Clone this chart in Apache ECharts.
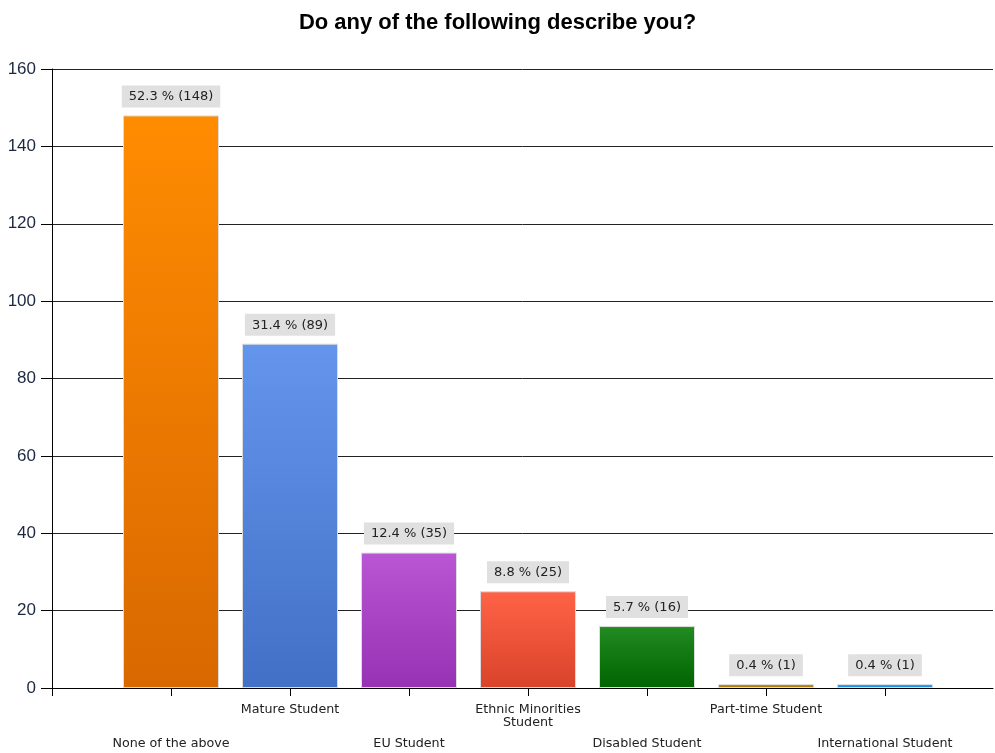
<!DOCTYPE html>
<html>
<head>
<meta charset="utf-8">
<script src="https://cdn.jsdelivr.net/npm/echarts@6/dist/echarts.min.js"></script>
<style>
body{margin:0;background:#fff;}
#chart{width:995px;height:753px;}
</style>
</head>
<body>
<div id="chart"></div>
<script>
var categories = ['None of the above','Mature Student','EU Student','Ethnic Minorities\nStudent','Disabled Student','Part-time Student','International Student'];
var counts = [148, 89, 35, 25, 16, 1, 1];
var percents = ['52.3','31.4','12.4','8.8','5.7','0.4','0.4'];
var topColors = ['#ff8c00','#6495ed','#ba55d3','#ff6347','#228b22','#b8860b','#1e9fff'];
var bottomColors = ['#d96800','#4270c6','#9632b4','#d9432a','#006400','#a87508','#1a86d6'];
var yTicks = [0, 20, 40, 60, 80, 100, 120, 140, 160];
var xPositions = [1, 2, 3, 4, 5, 6, 7];

var chart = echarts.init(document.getElementById('chart'));

var barData = [];
for (var i = 0; i < counts.length; i++) {
	barData.push({
		value: [xPositions[i], counts[i]],
		itemStyle: {
			color: new echarts.graphic.LinearGradient(0, 0, 0, 1, [
				{offset: 0, color: topColors[i]},
				{offset: 1, color: bottomColors[i]}
			])
		}
	});
}

function catLabel(v, row) {
	var idx = Math.round(v) - 1;
	if (idx < 0 || idx >= categories.length || Math.abs(v - idx - 1) > 0.01) return '';
	if (idx % 2 === row) return categories[idx];
	return '';
}

// 119px per category, axis runs from the y axis to the right edge
var xMax = 941 / 119;

var option = {
	animation: false,
	title: {
		text: 'Do any of the following describe you?',
		left: 'center',
		top: 7,
		textStyle: {fontFamily: 'Liberation Sans', fontSize: 22, fontWeight: 'bold', color: '#000'}
	},
	grid: {left: 52, top: 69, right: 2, bottom: 65},
	xAxis: [{
		type: 'value', min: 0, max: xMax, interval: 1,
		axisLine: {show: true, lineStyle: {color: '#000'}},
		axisTick: {show: true, length: 8, lineStyle: {color: '#000'}, customValues: [0].concat(xPositions)},
		splitLine: {show: false},
		axisLabel: {
			margin: 15, fontFamily: 'DejaVu Sans', fontSize: 12.7, color: '#222', lineHeight: 13,
			customValues: xPositions,
			formatter: function (v) { return catLabel(v, 1); }
		}
	}, {
		type: 'value', min: 0, max: xMax, interval: 1, position: 'bottom',
		axisLine: {show: false}, axisTick: {show: false}, splitLine: {show: false},
		axisLabel: {
			margin: 49, fontFamily: 'DejaVu Sans', fontSize: 12.7, color: '#222',
			customValues: xPositions,
			formatter: function (v) { return catLabel(v, 0); }
		}
	}],
	yAxis: {
		type: 'value', min: yTicks[0], max: yTicks[yTicks.length - 1], interval: 20,
		axisLine: {show: true, lineStyle: {color: '#000'}},
		axisTick: {show: true, length: 11, lineStyle: {color: '#000'}},
		splitLine: {show: true, lineStyle: {color: '#222', width: 1}},
		axisLabel: {margin: 16, fontFamily: 'Liberation Sans', fontSize: 17, color: '#1c2841'}
	},
	series: [{
		type: 'bar',
		xAxisIndex: 0,
		barWidth: 96,
		data: barData,
		itemStyle: {borderColor: '#dcdcdc', borderWidth: 1},
		label: {
			show: true,
			position: 'top',
			distance: 8,
			fontFamily: 'DejaVu Sans',
			fontSize: 13,
			color: '#222',
			backgroundColor: '#e0e0e0',
			padding: [5, 7, 4, 7],
			formatter: function (p) {
				return percents[p.dataIndex] + ' % (' + counts[p.dataIndex] + ')';
			}
		}
	}]
};

chart.setOption(option);
</script>
</body>
</html>
